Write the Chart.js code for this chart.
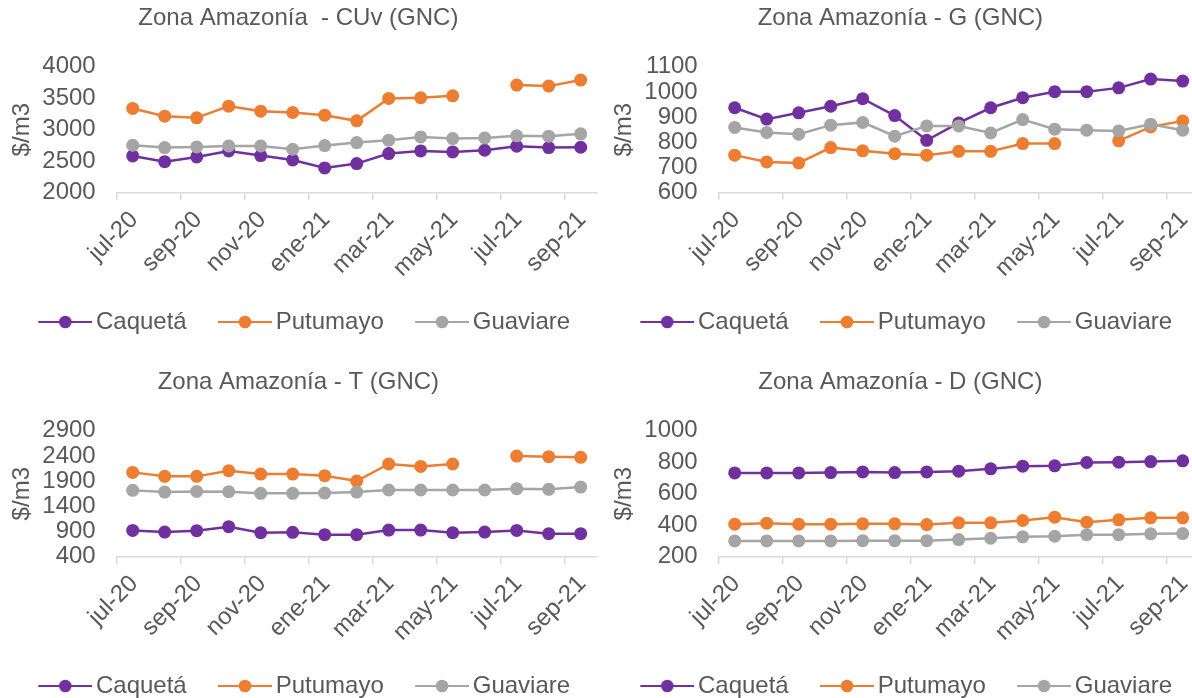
<!DOCTYPE html>
<html><head><meta charset="utf-8">
<script src="https://cdn.jsdelivr.net/npm/chart.js@4.4.0/dist/chart.umd.min.js"></script>
<style>
html,body{margin:0;padding:0;background:#fff;width:1192px;height:698px;overflow:hidden;position:relative}
.panel{position:absolute;width:622px;height:364px}
canvas{display:block}
</style></head><body>
<div class="panel" style="left:0;top:0"><canvas id="c1" width="622" height="364"></canvas></div>
<div class="panel" style="left:602px;top:0"><canvas id="c2" width="622" height="364"></canvas></div>
<div class="panel" style="left:0;top:364px"><canvas id="c3" width="622" height="364"></canvas></div>
<div class="panel" style="left:602px;top:364px"><canvas id="c4" width="622" height="364"></canvas></div>
<script>
// ---- data ----
const months = ['jul-20','ago-20','sep-20','oct-20','nov-20','dic-20','ene-21','feb-21','mar-21','abr-21','may-21','jun-21','jul-21','ago-21','sep-21'];
const seriesNames = ['Caquetá','Putumayo','Guaviare'];

const cuvCaqueta  = [2583, 2493, 2568, 2663, 2589, 2520, 2393, 2462, 2621, 2663, 2647, 2674, 2737, 2716, 2721];
const cuvPutumayo = [3337, 3215, 3188, 3374, 3294, 3273, 3231, 3141, 3496, 3507, 3538, null, 3708, 3692, 3788];
const cuvGuaviare = [2753, 2716, 2727, 2743, 2743, 2690, 2748, 2796, 2833, 2886, 2859, 2870, 2902, 2897, 2934];

const gCaqueta  = [937, 892, 917, 943, 973, 906, 808, 877, 937, 977, 1001, 1001, 1016, 1051, 1043];
const gPutumayo = [749, 722, 718, 779, 766, 755, 749, 764, 764, 795, 795, null, 806, 861, 885];
const gGuaviare = [859, 839, 832, 868, 879, 824, 865, 865, 837, 890, 852, 848, 845, 872, 848];

const tCaqueta  = [922, 889, 916, 995, 876, 883, 837, 837, 929, 929, 876, 889, 922, 856, 856];
const tPutumayo = [2073, 1994, 1994, 2106, 2040, 2040, 2007, 1901, 2239, 2192, 2239, null, 2397, 2384, 2371];
const tGuaviare = [1716, 1683, 1696, 1690, 1657, 1657, 1663, 1683, 1723, 1723, 1723, 1723, 1749, 1736, 1782];

const dCaqueta  = [732, 732, 732, 734, 738, 734, 738, 743, 758, 775, 777, 798, 800, 804, 809];
const dPutumayo = [406, 413, 406, 406, 409, 409, 404, 415, 415, 430, 451, 419, 434, 447, 447];
const dGuaviare = [300, 300, 300, 300, 302, 302, 302, 309, 317, 326, 330, 340, 340, 345, 347];

const cuvTicks = [2000, 4000, 500];
const gTicks   = [600, 1100, 100];
const tTicks   = [400, 2900, 500];
const dTicks   = [200, 1000, 200];

// ---- styles ----
const COLORS = ['#7030A0', '#ED7D31', '#A5A5A5'];
const TEXT = '#595959';
const FONT = "'Liberation Sans', Arial, sans-serif";
const FS = 24;
Chart.defaults.font.family = FONT;
Chart.defaults.color = TEXT;

function legendIcon(color) {
  const c = document.createElement('canvas');
  c.width = 74; c.height = 16;
  const g = c.getContext('2d');
  g.strokeStyle = color; g.lineWidth = 2.2;
  g.beginPath(); g.moveTo(20, 8); g.lineTo(74, 8); g.stroke();
  g.fillStyle = color;
  g.beginPath(); g.arc(47, 8, 6.3, 0, Math.PI * 2); g.fill();
  return c;
}
const icons = COLORS.map(legendIcon);

function makeChart(id, title, series, yt) {
  const datasets = series.map((vals, i) => ({
    label: seriesNames[i],
    data: vals,
    borderColor: COLORS[i],
    backgroundColor: COLORS[i],
    pointBackgroundColor: COLORS[i],
    pointBorderWidth: 0,
    pointRadius: 6.5,
    borderWidth: 2.5,
    tension: 0,
    spanGaps: false,
    order: 3 - i
  }));
  new Chart(document.getElementById(id), {
    type: 'line',
    data: { labels: months, datasets },
    options: {
      responsive: false,
      animation: false,
      devicePixelRatio: 1,
      events: [],
      layout: { padding: { left: 0, right: 25.3, top: 0, bottom: 20 } },
      plugins: {
        tooltip: { enabled: false },
        title: {
          display: true, text: title, color: TEXT,
          font: { size: FS, weight: 'normal', family: FONT },
          padding: { top: 4.3, bottom: 33.6 }
        },
        legend: {
          position: 'bottom',
          labels: {
            usePointStyle: true,
            pointStyleWidth: 57.4,
            padding: 19.6,
            color: TEXT,
            font: { size: FS, family: FONT },
            sort: (a, b) => a.datasetIndex - b.datasetIndex,
            generateLabels(chart) {
              const items = Chart.defaults.plugins.legend.labels.generateLabels(chart);
              items.forEach(it => { it.pointStyle = icons[it.datasetIndex]; });
              return items;
            }
          }
        }
      },
      scales: {
        x: {
          type: 'category',
          offset: true,
          afterFit(s) { s.height = 97.7; },
          grid: {
            offset: true, drawOnChartArea: false, tickLength: 7, lineWidth: 1.5,
            color: c => (c.index % 2 === 0 ? '#D9D9D9' : 'rgba(0,0,0,0)')
          },
          border: { display: true, color: '#D9D9D9', width: 1.5 },
          ticks: {
            autoSkip: false, maxRotation: 45, minRotation: 45, padding: 6, labelOffset: 1.5,
            color: TEXT, font: { size: FS, family: FONT },
            callback: (v, i) => (i % 2 === 0 ? months[i] : '')
          }
        },
        y: {
          min: yt[0], max: yt[1],
          afterFit(s) { s.width = 116.7; },
          grid: { display: false, drawTicks: false },
          border: { display: false },
          ticks: {
            stepSize: yt[2], autoSkip: false, padding: 21, color: TEXT,
            font: { size: FS, family: FONT },
            callback: v => String(v)
          },
          title: { display: true, text: '$/m3', color: TEXT, font: { size: FS, family: FONT }, padding: { top: 7.6, bottom: 0 } }
        }
      }
    }
  });
}

makeChart('c1', 'Zona Amazonía  - CUv (GNC)', [cuvCaqueta, cuvPutumayo, cuvGuaviare], cuvTicks);
makeChart('c2', 'Zona Amazonía - G (GNC)', [gCaqueta, gPutumayo, gGuaviare], gTicks);
makeChart('c3', 'Zona Amazonía - T (GNC)', [tCaqueta, tPutumayo, tGuaviare], tTicks);
makeChart('c4', 'Zona Amazonía - D (GNC)', [dCaqueta, dPutumayo, dGuaviare], dTicks);
</script>
</body></html>
